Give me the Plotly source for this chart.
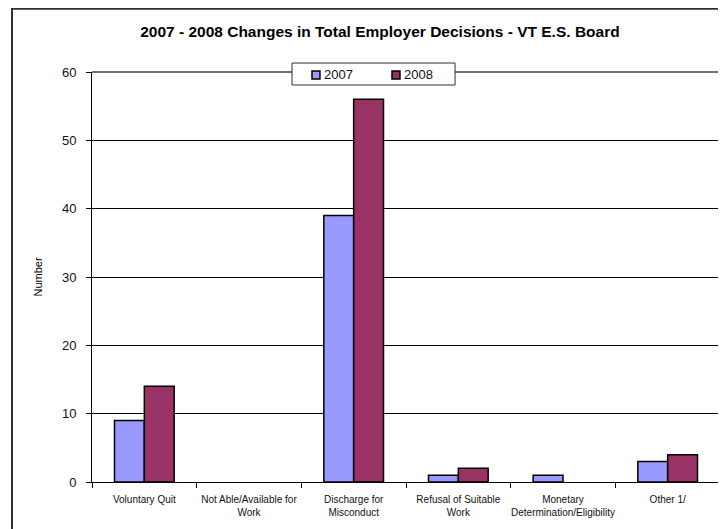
import plotly.graph_objects as go

categories = ["Voluntary Quit", "Not Able/Available for<br>Work", "Discharge for<br>Misconduct",
              "Refusal of Suitable<br>Work", "Monetary<br>Determination/Eligibility", "Other 1/"]
series_names = ["2007", "2008"]
values_2007 = [9, 0, 39, 1, 1, 3]
values_2008 = [14, 0, 56, 2, 0, 4]
y_ticks = [0, 10, 20, 30, 40, 50, 60]

FONT = "Liberation Sans Narrow, Arial Narrow, Liberation Sans, Arial, sans-serif"
COLORS = ["#9999FF", "#993366"]


def outline(vals):
    return [1.5 if v else 0 for v in vals]


fig = go.Figure()
for name, vals, col in zip(series_names, [values_2007, values_2008], COLORS):
    fig.add_trace(go.Bar(name=name, x=categories, y=vals, showlegend=False,
                         marker=dict(color=col, line=dict(color="black", width=outline(vals)))))

fig.update_layout(
    width=718, height=521,
    margin=dict(l=84, r=6, t=64, b=47, autoexpand=False),
    paper_bgcolor="white", plot_bgcolor="white",
    font=dict(family=FONT, color="black", size=11),
    title=dict(text="<b>2007 - 2008 Changes in Total Employer Decisions - VT E.S. Board</b>",
               x=0.518, xanchor="center", y=0.954, yanchor="middle",
               font=dict(size=15.5, family=FONT)),
    barmode="group", bargap=0.43, bargroupgap=0,
)
fig.update_xaxes(showline=True, linecolor="black", linewidth=1,
                 ticks="outside", tickson="boundaries", ticklen=5, tickcolor="black",
                 tickfont=dict(size=10, color="#111111"), tickangle=0, automargin=False,
                 ticklabelstandoff=8)
fig.update_yaxes(range=[0, 60], tickvals=y_ticks, showline=True, linecolor="black", linewidth=1,
                 ticks="outside", ticklen=5, tickcolor="black",
                 showgrid=True, gridcolor="black", gridwidth=1,
                 zeroline=False, tickfont=dict(size=13, color="#111111"), automargin=False,
                 ticklabelstandoff=7,
                 title=dict(text="Number", font=dict(size=11), standoff=17))

# right border of the plot area and outer chart border
fig.add_shape(type="line", xref="paper", yref="paper", x0=1, x1=1, y0=0, y1=1,
              line=dict(color="#808080", width=2))
fig.add_shape(type="line", xref="paper", yref="paper", x0=0, x1=1, y0=1, y1=1,
              line=dict(color="#404040", width=1.5))
fig.add_shape(type="rect", xref="paper", yref="paper", x0=-0.1274, x1=1.2, y0=-0.3, y1=1.154,
              line=dict(color="#303030", width=2), fillcolor="rgba(0,0,0,0)", layer="below")

# legend box (drawn like the original chart's compact legend)
fig.add_shape(type="rect", xref="paper", yref="paper", x0=0.3185, x1=0.5781, y0=0.9683, y1=1.0219,
              line=dict(color="#303030", width=1), fillcolor="white")
legend_x = [0.3503, 0.4777]
for name, col, lx in zip(series_names, COLORS, legend_x):
    fig.add_shape(type="rect", xref="paper", yref="paper", x0=lx, x1=lx + 0.0127,
                  y0=0.9829, y1=1.0024, line=dict(color="black", width=1.5), fillcolor=col)
    fig.add_annotation(xref="paper", yref="paper", x=lx + 0.0155, y=0.9927, text=name,
                       showarrow=False, xanchor="left", yanchor="middle",
                       font=dict(size=13, family=FONT, color="#111111"))

fig.write_html("out.html")
